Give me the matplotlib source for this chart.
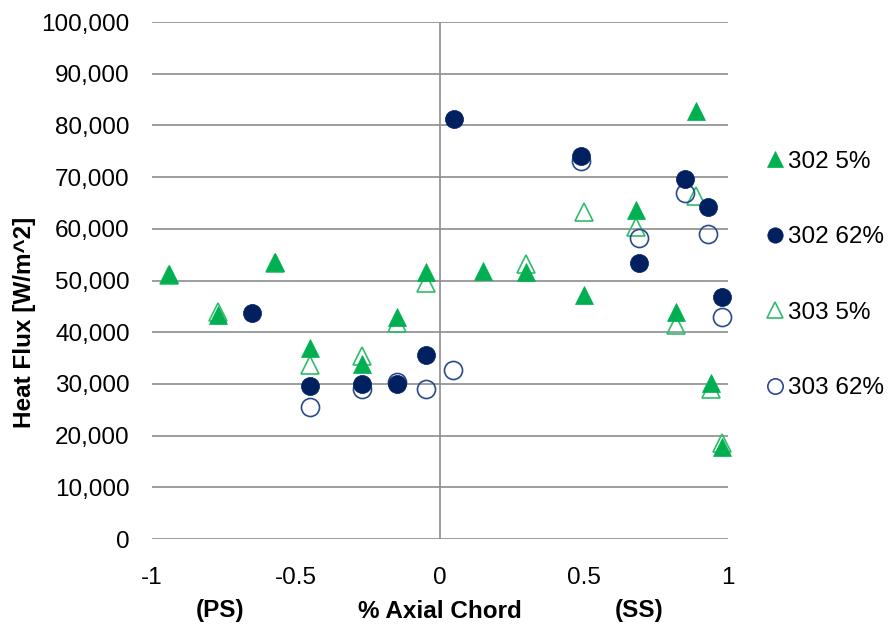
import matplotlib
matplotlib.use("Agg")
import matplotlib.pyplot as plt
from matplotlib.ticker import FuncFormatter

plt.rcParams['font.family'] = ['Liberation Sans', 'DejaVu Sans']

# ---- data ----
x_302_5 = [-0.94, -0.77, -0.572, -0.45, -0.27, -0.149, -0.05, 0.15, 0.30, 0.50, 0.68, 0.82, 0.889, 0.94, 0.98]
y_302_5 = [51200, 43300, 53600, 36900, 33800, 42900, 51600, 51900, 51700, 47200, 63600, 44000, 82800, 30100, 17700]

x_302_62 = [-0.652, -0.45, -0.27, -0.149, -0.05, 0.05, 0.49, 0.69, 0.851, 0.931, 0.98]
y_302_62 = [43800, 29600, 30000, 30000, 35600, 81200, 74100, 53300, 69600, 64300, 46900]

x_303_5 = [-0.94, -0.77, -0.572, -0.45, -0.27, -0.149, -0.05, 0.30, 0.50, 0.68, 0.82, 0.889, 0.94, 0.98]
y_303_5 = [51000, 44000, 53300, 33600, 35300, 41700, 49600, 53100, 63300, 60400, 41400, 66300, 29000, 18600]

x_303_62 = [-0.45, -0.27, -0.149, -0.05, 0.046, 0.49, 0.69, 0.851, 0.931, 0.98]
y_303_62 = [25600, 29100, 30400, 29000, 32700, 73100, 58300, 66900, 59000, 43000]

series_labels = ["302 5%", "302 62%", "303 5%", "303 62%"]
x_ticks = [-1, -0.5, 0, 0.5, 1]
x_tick_labels = ["-1", "-0.5", "0", "0.5", "1"]
y_ticks = list(range(0, 100001, 10000))

GREEN = "#00B050"
NAVY = "#002060"
GRID = "#8C8C8C"
FS = 17.5

fig = plt.figure(figsize=(8.88, 6.31), dpi=100)
ax = fig.add_axes([152 / 888, 1 - 539 / 631, 576 / 888, 517 / 631])
ax.set_xlim(-1, 1)
ax.set_ylim(0, 100000)
for s in ax.spines.values():
    s.set_visible(False)

ax.set_yticks(y_ticks)
ax.yaxis.set_major_formatter(FuncFormatter(lambda v, p: f"{int(v):,}"))
ax.set_xticks(x_ticks)
ax.set_xticklabels(x_tick_labels)
ax.tick_params(axis='both', length=0, labelsize=FS, colors='#000000')
ax.tick_params(axis='y', pad=16)
ax.tick_params(axis='x', pad=20)
ax.yaxis.grid(True, color=GRID, lw=1.2)
ax.set_axisbelow(True)
ax.axvline(0, color=GRID, lw=1.2, zorder=0.5)

# open series first (below), filled on top
h3, = ax.plot(x_303_5, y_303_5, linestyle='none', marker='^', ms=13,
              mfc='none', mec="#2EBD6B", mew=1.2, clip_on=False, zorder=2, label=series_labels[2])
h4, = ax.plot(x_303_62, y_303_62, linestyle='none', marker='o', ms=13,
              mfc='none', mec="#2B4A8C", mew=1.2, clip_on=False, zorder=2, label=series_labels[3])
h1, = ax.plot(x_302_5, y_302_5, linestyle='none', marker='^', ms=13,
              mfc=GREEN, mec=GREEN, mew=0.5, clip_on=False, zorder=3, label=series_labels[0])
h2, = ax.plot(x_302_62, y_302_62, linestyle='none', marker='o', ms=13,
              mfc=NAVY, mec=NAVY, mew=0.5, clip_on=False, zorder=3, label=series_labels[1])

leg = fig.legend([h1, h2, h3, h4], series_labels, loc='center left',
                 bbox_to_anchor=(766 / 888, 1 - 275 / 631), frameon=False,
                 fontsize=FS, handlelength=0.7, handletextpad=0.2,
                 labelspacing=2.2, borderpad=0, borderaxespad=0, markerscale=0.85)

fig.text(24 / 888, 1 - 322 / 631, "Heat Flux [W/m^2]", rotation=90, ha='center', va='center',
         fontsize=FS, fontweight='bold')
fig.text(220 / 888, 1 - 611 / 631, "(PS)", ha='center', va='center', fontsize=FS, fontweight='bold')
fig.text(440 / 888, 1 - 611 / 631, "% Axial Chord", ha='center', va='center', fontsize=FS, fontweight='bold')
fig.text(639 / 888, 1 - 611 / 631, "(SS)", ha='center', va='center', fontsize=FS, fontweight='bold')

fig.savefig("out.png", dpi=100)
